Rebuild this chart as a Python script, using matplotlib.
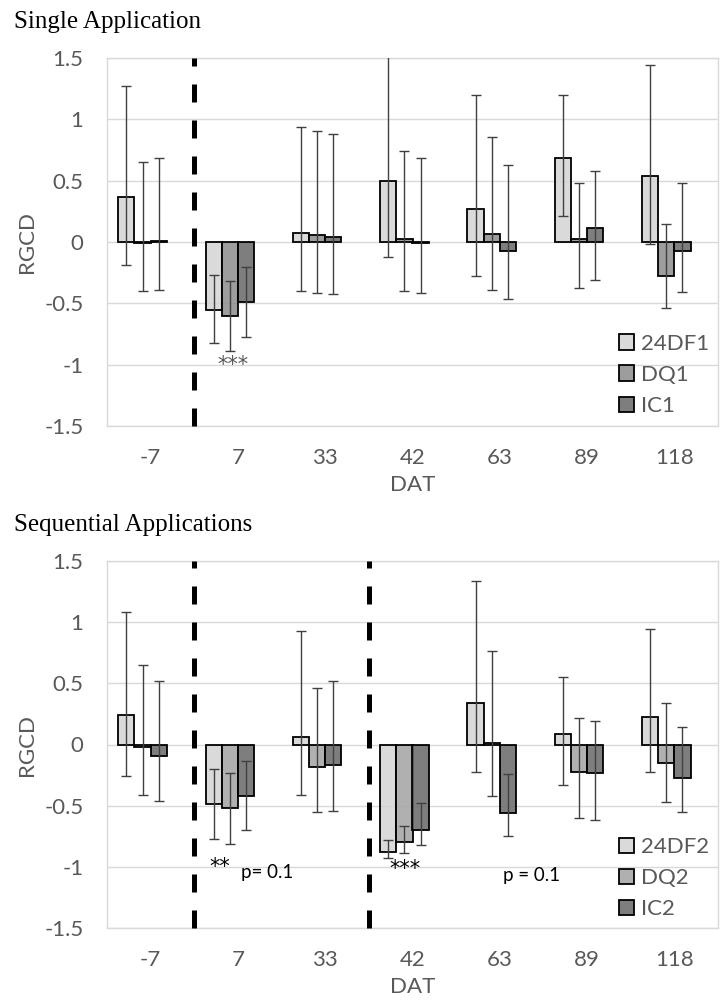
import matplotlib
matplotlib.use("Agg")
import matplotlib.pyplot as plt
import numpy as np
from matplotlib.colors import to_rgba

# ---------------- data ----------------
categories = ["-7", "7", "33", "42", "63", "89", "118"]

# Single application
s_names = ["24DF1", "DQ1", "IC1"]
s_24DF1 = [0.365, -0.551, 0.076, 0.50, 0.265, 0.684, 0.54]
s_24DF1_lo = [-0.186, -0.822, -0.403, -0.122, -0.276, 0.211, -0.019]
s_24DF1_hi = [1.273, -0.268, 0.935, 1.60, 1.20, 1.20, 1.44]
s_DQ1 = [-0.01, -0.60, 0.054, 0.022, 0.062, 0.022, -0.276]
s_DQ1_lo = [-0.403, -0.886, -0.414, -0.403, -0.392, -0.378, -0.538]
s_DQ1_hi = [0.654, -0.319, 0.903, 0.738, 0.854, 0.481, 0.149]
s_IC1 = [0.012, -0.489, 0.043, -0.008, -0.073, 0.114, -0.073]
s_IC1_lo = [-0.392, -0.776, -0.422, -0.414, -0.465, -0.308, -0.411]
s_IC1_hi = [0.686, -0.205, 0.884, 0.684, 0.624, 0.581, 0.481]

# Sequential applications
q_names = ["24DF2", "DQ2", "IC2"]
q_24DF2 = [0.24, -0.49, 0.063, -0.875, 0.342, 0.082, 0.226]
q_24DF2_lo = [-0.261, -0.774, -0.416, -0.927, -0.228, -0.334, -0.228]
q_24DF2_hi = [1.084, -0.204, 0.924, -0.78, 1.34, 0.549, 0.946]
q_DQ2 = [-0.019, -0.522, -0.188, -0.80, 0.01, -0.223, -0.155]
q_DQ2_lo = [-0.416, -0.81, -0.554, -0.883, -0.418, -0.603, -0.47]
q_DQ2_hi = [0.647, -0.236, 0.465, -0.666, 0.764, 0.217, 0.342]
q_IC2 = [-0.095, -0.418, -0.168, -0.698, -0.562, -0.231, -0.277]
q_IC2_lo = [-0.46, -0.698, -0.543, -0.82, -0.747, -0.617, -0.554]
q_IC2_hi = [0.516, -0.136, 0.516, -0.481, -0.242, 0.196, 0.144]

s_vlines = [0.5]
q_vlines = [0.5, 2.5]

# --------------- style ----------------
plt.rcParams['font.family'] = ['Lato', 'DejaVu Sans']
fig = plt.figure(figsize=(7.21, 10.01), dpi=100)

GRID = '#d9d9d9'
TXT = '#595959'

def panel(rect, title, title_y, names, vals, los, his, colors, vlines, legend_y):
    ax = fig.add_axes(rect)
    x = np.arange(len(categories))
    w = 0.185
    offs = [-1.5 * w, -0.5 * w, 0.5 * w]
    handles = []
    for v, lo, hi, off, c, n in zip(vals, los, his, offs, colors, names):
        v = np.array(v); lo = np.array(lo); hi = np.array(hi)
        b = ax.bar(x + off, v, width=w, color=to_rgba(c, 0.85), edgecolor='black',
                   linewidth=1.3, zorder=3, label=n)
        ax.errorbar(x + off, v, yerr=[v - lo, hi - v], fmt='none', ecolor='#404040',
                    elinewidth=1.0, capsize=3.6, capthick=1.0, zorder=4, clip_on=True)
        handles.append(b)
    for xv in vlines:
        ax.axvline(xv, color='black', lw=3.6, linestyle=(0, (3.6, 3.6)), zorder=5, clip_on=False)
    ax.set_xlim(-0.5, len(categories) - 0.5)
    ax.set_ylim(-1.5, 1.5)
    ax.set_yticks([-1.5, -1, -0.5, 0, 0.5, 1, 1.5])
    ax.set_yticklabels(['-1.5', '-1', '-0.5', '0', '0.5', '1', '1.5'])
    ax.set_xticks(x)
    ax.set_xticklabels(categories)
    ax.tick_params(axis='both', length=0, labelsize=16, labelcolor=TXT)
    ax.tick_params(axis='y', pad=17)
    ax.tick_params(axis='x', pad=16)
    ax.grid(axis='y', color=GRID, lw=1.0, zorder=0)
    ax.set_axisbelow(True)
    for s in ax.spines.values():
        s.set_color(GRID)
        s.set_linewidth(1.0)
    ax.set_ylabel('RGCD', fontsize=16, color=TXT, labelpad=5)
    ax.set_xlabel('DAT', fontsize=16, color=TXT, labelpad=5)
    leg = ax.legend(handles=handles, loc='center left', bbox_to_anchor=(0.838, legend_y),
                    frameon=False, fontsize=16, handlelength=0.68, handleheight=0.68,
                    handletextpad=0.33, labelspacing=0.5, borderpad=0, borderaxespad=0,
                    labelcolor=TXT)
    for p in leg.get_patches():
        p.set_alpha(None)
    fig.text(14 / 721, 1 - title_y / 1001, title, family='Liberation Serif', fontsize=18,
             color='black', va='baseline', ha='left')
    return ax

ax1 = panel([107 / 721, 1 - 426 / 1001, 611 / 721, 368 / 1001], 'Single Application', 28,
            s_names, [s_24DF1, s_DQ1, s_IC1], [s_24DF1_lo, s_DQ1_lo, s_IC1_lo],
            [s_24DF1_hi, s_DQ1_hi, s_IC1_hi], ['#d4d4d4', '#8c8c8c', '#686868'],
            s_vlines, 0.139)
ax1.text(0.94, -1.0, '***', ha='center', va='center', fontsize=15, color='#595959',
         family='DejaVu Sans')

ax2 = panel([107 / 721, 1 - 928 / 1001, 611 / 721, 367 / 1001], 'Sequential Applications', 531,
            q_names, [q_24DF2, q_DQ2, q_IC2], [q_24DF2_lo, q_DQ2_lo, q_IC2_lo],
            [q_24DF2_hi, q_DQ2_hi, q_IC2_hi], ['#d4d4d4', '#a3a3a3', '#686868'],
            q_vlines, 0.136)
ax2.text(0.79, -1.0, '**', ha='center', va='center', fontsize=15, color='black',
         family='DejaVu Sans')
ax2.text(1.33, -1.05, 'p= 0.1', ha='center', va='center', fontsize=13.5, color='black')
ax2.text(2.91, -1.02, '***', ha='center', va='center', fontsize=15, color='black',
         family='DejaVu Sans')
ax2.text(4.36, -1.07, 'p = 0.1', ha='center', va='center', fontsize=13.5, color='black')

fig.savefig('out.png', dpi=100)
